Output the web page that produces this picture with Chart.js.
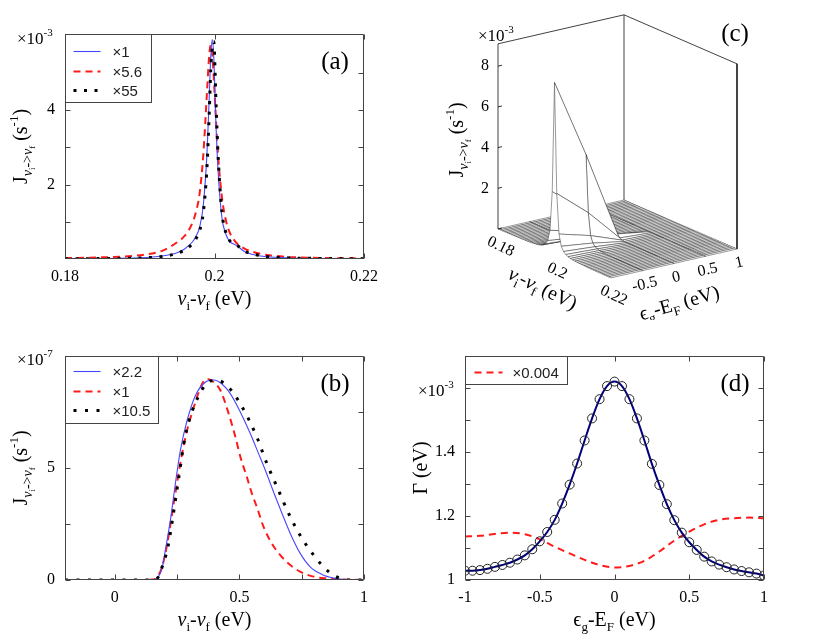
<!DOCTYPE html>
<html>
<head>
<meta charset="utf-8">
<script src="https://cdn.jsdelivr.net/npm/chart.js@4.4.1/dist/chart.umd.min.js"></script>
<style>
  html, body { margin: 0; padding: 0; background: #fff; }
  #page { position: relative; width: 830px; height: 643px; overflow: hidden; background: #fff; }
  canvas { position: absolute; }
</style>
</head>
<body>
<div id="page">
  <canvas id="cA" width="415" height="320" style="left:0;top:0"></canvas>
  <canvas id="cB" width="415" height="323" style="left:0;top:320px"></canvas>
  <canvas id="cC" width="415" height="320" style="left:415px;top:0"></canvas>
  <canvas id="cD" width="430" height="323" style="left:400px;top:320px"></canvas>
</div>
<script>
const SERIF = '"Liberation Serif", "Times New Roman", "DejaVu Serif", serif';
const SANS = '"Liberation Sans", Arial, sans-serif';
const BLUE = '#4646ff', RED = '#ff1a1a', NAVY = '#00007a';

// ---- (a) J vs nu_i - nu_f, units 1e-3 s^-1
const aNu = [0.18, 0.185, 0.19, 0.193, 0.195, 0.196, 0.197, 0.1975, 0.198, 0.1985, 0.199, 0.1993, 0.1995, 0.1997,
  0.1999, 0.2002, 0.2005, 0.201, 0.2015, 0.202, 0.203, 0.204, 0.205, 0.207, 0.21, 0.215, 0.22];
const aBlue = [0.007, 0.013, 0.029, 0.08, 0.17, 0.27, 0.45, 0.6, 0.85, 1.44, 2.86, 4.38, 5.43, 5.9,
  5.43, 3.6, 2.3, 1.1, 0.68, 0.48, 0.36, 0.2, 0.13, 0.06, 0.028, 0.013, 0.007];
const aRed = [0.025, 0.045, 0.1, 0.22, 0.45, 0.62, 0.95, 1.25, 1.75, 2.8, 4.5, 5.5, 5.75, 5.5,
  4.88, 3.73, 2.73, 1.65, 1.06, 0.73, 0.42, 0.28, 0.2, 0.11, 0.055, 0.025, 0.015];
const aBlack = [0.007, 0.012, 0.027, 0.07, 0.15, 0.24, 0.4, 0.54, 0.76, 1.25, 2.5, 3.95, 5.1, 5.7,
  5.85, 4.2, 2.7, 1.25, 0.72, 0.5, 0.37, 0.21, 0.14, 0.065, 0.03, 0.013, 0.007];
const aLegend = ['\u00d71', '\u00d75.6', '\u00d755'];
const aXTicks = [0.18, 0.2, 0.22], aXLabels = ['0.18', '0.2', '0.22'];
const aYTicks = [1, 2, 3, 4, 5], aYLabels = ['', '2', '', '4', ''];

// ---- (b) units 1e-7 s^-1
const bNuBlue = [-0.2, 0, 0.1, 0.15, 0.17, 0.19, 0.203, 0.223, 0.243, 0.263, 0.29, 0.323, 0.363, 0.397, 0.43,
  0.464, 0.504, 0.544, 0.577, 0.604, 0.637, 0.671, 0.704, 0.744, 0.784, 0.831, 0.878, 0.931, 1.0];
const bBlue = [0, 0, 0, 0.01, 0.08, 0.55, 1.34, 2.67, 4.3, 5.79, 7.12, 8.23, 8.83, 8.93, 8.75,
  8.31, 7.49, 6.53, 5.64, 4.9, 3.93, 2.97, 2.08, 1.19, 0.59, 0.25, 0.09, 0.015, 0];
const bNuRed = [-0.2, 0, 0.1, 0.15, 0.17, 0.19, 0.21, 0.236, 0.27, 0.29, 0.317, 0.35, 0.37, 0.395, 0.424,
  0.457, 0.484, 0.504, 0.53, 0.55, 0.57, 0.597, 0.63, 0.664, 0.704, 0.744, 0.798, 0.851, 0.904, 1.0];
const bRed = [0, 0, 0, 0.02, 0.12, 0.6, 1.6, 3.41, 5.64, 6.68, 7.72, 8.75, 8.98, 8.85, 8.46,
  7.42, 6.38, 5.49, 4.6, 3.86, 3.26, 2.37, 1.63, 1.11, 0.67, 0.37, 0.15, 0.07, 0.03, 0];
const bNuBlack = [-0.2, 0, 0.1, 0.15, 0.17, 0.19, 0.213, 0.233, 0.257, 0.283, 0.337, 0.39, 0.413, 0.45, 0.504,
  0.57, 0.61, 0.651, 0.704, 0.747, 0.798, 0.858, 0.904, 0.944, 1.0];
const bBlack = [0, 0, 0, 0.01, 0.07, 0.59, 1.48, 2.82, 4.6, 6.45, 8.23, 8.9, 8.9, 8.68, 7.86,
  6.38, 5.2, 4.15, 2.82, 1.93, 1.11, 0.37, 0.07, 0, 0];
const bLegend = ['\u00d72.2', '\u00d71', '\u00d710.5'];
const bXTicks = [0, 0.25, 0.5, 0.75, 1], bXLabels = ['0', '', '0.5', '', '1'];
const bYTicks = [0, 2.5, 5, 7.5], bYLabels = ['0', '', '5', ''];

// ---- (c) surface J(nu, eps), units 1e-3 s^-1
const cNuRange = [0.18, 0.22], cEpsRange = [-1, 1], cZMax = 9.1;
const cNu = [];
for (let i = 0; i <= 50; i++) cNu.push(+(0.18 + 0.0008 * i).toFixed(4));
const cEps = [-1, -0.5, 0, 0.5, 1];
const cJm1 = [0.007, 0.008, 0.009, 0.01, 0.011, 0.012, 0.013, 0.015, 0.016, 0.018, 0.021, 0.024, 0.028, 0.033,
  0.04, 0.047, 0.058, 0.075, 0.095, 0.13, 0.19, 0.29, 0.5, 1.05, 3.0, 8.4, 3.0, 1.05, 0.5, 0.29, 0.19, 0.13,
  0.095, 0.075, 0.058, 0.047, 0.04, 0.033, 0.028, 0.024, 0.021, 0.018, 0.016, 0.015, 0.013, 0.012, 0.011,
  0.01, 0.009, 0.008, 0.007];
const cJm05 = [0.004, 0.005, 0.005, 0.006, 0.006, 0.007, 0.008, 0.009, 0.01, 0.011, 0.012, 0.014, 0.016,
  0.019, 0.023, 0.028, 0.035, 0.045, 0.06, 0.08, 0.11, 0.17, 0.3, 0.62, 1.7, 4.5, 1.7, 0.62, 0.3, 0.17, 0.11,
  0.08, 0.06, 0.045, 0.035, 0.028, 0.023, 0.019, 0.016, 0.014, 0.012, 0.011, 0.01, 0.009, 0.008, 0.007,
  0.006, 0.006, 0.005, 0.005, 0.004];
const cJ0 = [0.001, 0.001, 0.001, 0.001, 0.001, 0.001, 0.001, 0.001, 0.001, 0.001, 0.001, 0.001, 0.001,
  0.001, 0.001, 0.001, 0.002, 0.003, 0.004, 0.005, 0.008, 0.012, 0.02, 0.04, 0.1, 0.25, 0.1, 0.04, 0.02,
  0.012, 0.008, 0.005, 0.004, 0.003, 0.002, 0.001, 0.001, 0.001, 0.001, 0.001, 0.001, 0.001, 0.001, 0.001,
  0.001, 0.001, 0.001, 0.001, 0.001, 0.001, 0.001];
const cJp05 = [0, 0, 0, 0, 0, 0, 0, 0, 0, 0, 0, 0, 0, 0, 0, 0, 0, 0, 0, 0, 0, 0, 0, 0, 0, 0,
  0, 0, 0, 0, 0, 0, 0, 0, 0, 0, 0, 0, 0, 0, 0, 0, 0, 0, 0, 0, 0, 0, 0, 0, 0];
const cJp1 = [0, 0, 0, 0, 0, 0, 0, 0, 0, 0, 0, 0, 0, 0, 0, 0, 0, 0, 0, 0, 0, 0, 0, 0, 0, 0,
  0, 0, 0, 0, 0, 0, 0, 0, 0, 0, 0, 0, 0, 0, 0, 0, 0, 0, 0, 0, 0, 0, 0, 0, 0];
const cZTicks = [2, 4, 6, 8], cZLabels = ['2', '4', '6', '8'];
const cNuTicks = [0.18, 0.2, 0.22], cNuLabels = ['0.18', '0.2', '0.22'];
const cEpsTicks = [-0.5, 0, 0.5, 1], cEpsLabels = ['-0.5', '0', '0.5', '1'];

// ---- (d) Gamma vs eps_g - E_F, units 1e-3 eV
const dEps = [-1, -0.95, -0.9, -0.85, -0.8, -0.75, -0.7, -0.65, -0.6, -0.55, -0.5, -0.45, -0.4, -0.35,
  -0.3, -0.25, -0.2, -0.15, -0.1, -0.05, 0, 0.05, 0.1, 0.15, 0.2, 0.25, 0.3, 0.35, 0.4, 0.45, 0.5,
  0.55, 0.6, 0.65, 0.7, 0.75, 0.8, 0.85, 0.9, 0.95, 1];
const dGamma = [1.029, 1.029, 1.031, 1.035, 1.041, 1.047, 1.054, 1.064, 1.077, 1.096, 1.121, 1.15, 1.188,
  1.239, 1.298, 1.364, 1.436, 1.505, 1.565, 1.606, 1.62, 1.606, 1.565, 1.505, 1.436, 1.363, 1.297, 1.237,
  1.187, 1.148, 1.118, 1.094, 1.073, 1.058, 1.048, 1.04, 1.033, 1.028, 1.024, 1.02, 1.014];
const dEpsRed = [-1, -0.9, -0.8, -0.7, -0.6, -0.5, -0.4, -0.3, -0.2, -0.1, 0, 0.1, 0.2, 0.3, 0.4, 0.5,
  0.6, 0.7, 0.8, 0.9, 1];
const dRed = [1.136, 1.138, 1.144, 1.148, 1.143, 1.127, 1.104, 1.083, 1.063, 1.047, 1.039, 1.044, 1.06,
  1.089, 1.123, 1.151, 1.174, 1.188, 1.193, 1.195, 1.193];
const dLegend = ['\u00d70.004'];
const dXTicks = [-1, -0.5, 0, 0.5, 1], dXLabels = ['-1', '-0.5', '0', '0.5', '1'];
const dYTicks = [1, 1.1, 1.2, 1.3, 1.4, 1.5, 1.6], dYLabels = ['1', '', '1.2', '', '1.4', '', ''];

// ---- text helpers
function richText(ctx, segs, x, y, rot, align) {
  ctx.save();
  ctx.translate(x, y);
  ctx.rotate(rot || 0);
  ctx.fillStyle = '#000';
  ctx.textAlign = 'left';
  ctx.textBaseline = 'alphabetic';
  const fontOf = s => (s[3] ? 'italic ' : '') + s[1] + 'px ' + (s[4] || SERIF);
  let w = 0;
  segs.forEach(s => { ctx.font = fontOf(s); w += ctx.measureText(s[0]).width; });
  let cx = align === 'center' ? -w / 2 : (align === 'right' ? -w : 0);
  segs.forEach(s => {
    ctx.font = fontOf(s);
    ctx.fillText(s[0], cx, s[2] || 0);
    cx += ctx.measureText(s[0]).width;
  });
  ctx.restore();
}
const tNu = [['\u03bd', 20, 0, true], ['i', 13, 5], ['-', 20, 0], ['\u03bd', 20, 0, true], ['f', 13, 5], [' (eV)', 20, 0]];
const tJ = [['J', 20, 0], ['\u03bd', 14, 5, true], ['i', 9, 8], ['->', 14, 5], ['\u03bd', 14, 5, true], ['f', 9, 8],
  [' (s', 20, 0], ['-1', 13, -9], [')', 20, 0]];
const tEps = [['\u03f5', 20, 0], ['g', 13, 5], ['-E', 20, 0], ['F', 13, 5], [' (eV)', 20, 0]];
const tGamma = [['\u0393 (eV)', 20, 0]];
const exp = p => [['\u00d710', 17, 0], [p, 11, -8]];

// ---- 2D panel decorations: inward ticks, frame, legend, labels
function decoPlugin(o) {
  return {
    id: 'deco',
    afterDraw(chart) {
      const ctx = chart.ctx, a = chart.chartArea, sx = chart.scales.x, sy = chart.scales.y;
      const L = Math.round(a.left) + 0.5, T = Math.round(a.top) + 0.5;
      const R = Math.round(a.right) - 0.5, B = Math.round(a.bottom) - 0.5;
      ctx.save();
      ctx.setLineDash([]);
      ctx.strokeStyle = '#444';
      ctx.lineWidth = 1;
      ctx.beginPath();
      sx.ticks.forEach(t => {
        const p = Math.round(sx.getPixelForValue(t.value)) + 0.5;
        ctx.moveTo(p, B); ctx.lineTo(p, B - 5);
        ctx.moveTo(p, T); ctx.lineTo(p, T + 5);
      });
      sy.ticks.forEach(t => {
        const p = Math.round(sy.getPixelForValue(t.value)) + 0.5;
        ctx.moveTo(L, p); ctx.lineTo(L + 5, p);
        ctx.moveTo(R, p); ctx.lineTo(R - 5, p);
      });
      ctx.rect(L, T, R - L, B - T);
      ctx.stroke();

      const lg = o.legend;
      if (lg) {
        ctx.fillStyle = '#fff';
        ctx.fillRect(L, T, lg.w, lg.h);
        ctx.strokeStyle = '#444';
        ctx.strokeRect(L, T, lg.w, lg.h);
        lg.labels.forEach((lab, i) => {
          const ds = chart.data.datasets[i];
          const yy = Math.round(T + lg.rows[i]) + 0.5;
          ctx.save();
          ctx.strokeStyle = ds.borderColor;
          ctx.lineWidth = ds.borderWidth;
          ctx.lineCap = 'butt';
          ctx.setLineDash(ds.borderDash || []);
          ctx.beginPath();
          ctx.moveTo(L + lg.s0, yy);
          ctx.lineTo(L + lg.s1, yy);
          ctx.stroke();
          ctx.restore();
          ctx.fillStyle = '#222';
          ctx.font = '15px ' + SANS;
          ctx.textBaseline = 'middle';
          ctx.textAlign = 'left';
          ctx.fillText(lab, L + lg.tx, yy + 1);
        });
      }
      o.texts.forEach(t => {
        const [x, y] = t.at(a);
        richText(ctx, t.segs, x, y, t.rot || 0, t.align || 'left');
      });
      ctx.restore();
    }
  };
}

function axisOpts(min, max, ticks, labels, which, size) {
  return {
    type: 'linear', min: min, max: max,
    afterBuildTicks: s => { s.ticks = ticks.map(v => ({ value: v })); },
    afterFit: s => { if (which === 'x') s.height = size; else s.width = size; },
    ticks: {
      autoSkip: false, maxRotation: 0, minRotation: 0,
      padding: which === 'x' ? 8 : 10,
      color: '#000', font: { family: SERIF, size: 16 },
      callback: (v, i) => labels[i]
    },
    grid: { display: false, drawTicks: false, tickLength: 0 },
    border: { display: false }
  };
}

function series(xs, ys, style) {
  return Object.assign({
    data: xs.map((x, i) => ({ x: x, y: ys[i] })),
    pointRadius: 0, fill: false, tension: 0, cubicInterpolationMode: 'monotone', borderCapStyle: 'butt'
  }, style);
}

function panel(id, datasets, pad, xAxis, yAxis, deco) {
  return new Chart(document.getElementById(id), {
    type: 'line',
    data: { datasets: datasets },
    options: {
      responsive: false, animation: false, events: [],
      layout: { padding: { left: 0, bottom: 0, top: pad.top, right: pad.right } },
      plugins: { legend: { display: false }, tooltip: { enabled: false } },
      scales: { x: xAxis, y: yAxis }
    },
    plugins: [decoPlugin(deco)]
  });
}

const xTitle = segs => ({ segs: segs, align: 'center', at: a => [(a.left + a.right) / 2, a.bottom + 46] });
const yTitle = segs => ({ segs: segs, align: 'center', rot: -Math.PI / 2, at: a => [a.left - 38, (a.top + a.bottom) / 2] });
const tag = s => ({ segs: [[s, 25, 0]], align: 'center', at: a => [a.right - 29, a.top + 35] });

// (a)
panel('cA', [
  series(aNu, aBlue, { borderColor: BLUE, borderWidth: 1.1, order: 1 }),
  series(aNu, aRed, { borderColor: RED, borderWidth: 2, borderDash: [7, 5], order: 2 }),
  series(aNu, aBlack, { borderColor: '#000', borderWidth: 3, borderDash: [3, 7.5], order: 0 })
], { top: 34, right: 51 },
  axisOpts(0.18, 0.22, aXTicks, aXLabels, 'x', 61),
  axisOpts(0, 6.05, aYTicks, aYLabels, 'y', 65),
  {
    legend: { w: 86, h: 68, rows: [16, 36, 55], s0: 8, s1: 35, tx: 47, labels: aLegend },
    texts: [xTitle(tNu), yTitle(tJ), tag('(a)'),
      { segs: exp('-3'), at: a => [a.left - 48, a.top + 10] }]
  });

// (b)
panel('cB', [
  series(bNuBlue, bBlue, { borderColor: BLUE, borderWidth: 1.1, order: 1 }),
  series(bNuRed, bRed, { borderColor: RED, borderWidth: 2, borderDash: [7, 5], order: 2 }),
  series(bNuBlack, bBlack, { borderColor: '#000', borderWidth: 3, borderDash: [3, 8.5], order: 0 })
], { top: 36, right: 51 },
  axisOpts(-0.2, 1, bXTicks, bXLabels, 'x', 63),
  axisOpts(0, 10, bYTicks, bYLabels, 'y', 65),
  {
    legend: { w: 93, h: 67, rows: [14, 34, 53], s0: 8, s1: 35, tx: 47, labels: bLegend },
    texts: [xTitle(tNu), yTitle(tJ), tag('(b)'),
      { segs: exp('-7'), at: a => [a.left - 48, a.top + 9] }]
  });

// (d)
panel('cD', [
  series(dEpsRed, dRed, { borderColor: RED, borderWidth: 2, borderDash: [7, 5], order: 2 }),
  series(dEps, dGamma, { borderColor: NAVY, borderWidth: 2, order: 1 }),
  {
    data: dEps.map((x, i) => ({ x: x, y: dGamma[i] })), showLine: false,
    pointRadius: 4.5, pointBorderWidth: 1, pointBorderColor: '#222',
    pointBackgroundColor: 'rgba(0,0,0,0)', borderColor: '#222', order: 0
  }
], { top: 36, right: 66 },
  axisOpts(-1, 1, dXTicks, dXLabels, 'x', 63),
  axisOpts(1, 1.7, dYTicks, dYLabels, 'y', 65),
  {
    legend: { w: 102, h: 28, rows: [15], s0: 9, s1: 37, tx: 47, labels: dLegend },
    texts: [xTitle(tEps), yTitle(tGamma), tag('(d)'),
      { segs: exp('-3'), at: a => [a.left - 47, a.top + 40] }]
  });

// ---- (c) mesh surface, drawn back-to-front with white-filled quads
function proj(nu, eps, j) {
  const p = (nu - cNuRange[0]) / (cNuRange[1] - cNuRange[0]);
  const q = (eps - cEpsRange[0]) / (cEpsRange[1] - cEpsRange[0]);
  return { x: 83 + 113 * p + 126 * q, y: 229 + 49 * p - 29 * q - 20.35 * j };
}
const cRows = [cJm1, cJm05, cJ0, cJp05, cJp1];
const cSets = [];
for (let j = 0; j < cEps.length - 1; j++) {
  for (let i = cNu.length - 2; i >= 0; i--) {
    const pts = [
      proj(cNu[i], cEps[j], cRows[j][i]),
      proj(cNu[i + 1], cEps[j], cRows[j][i + 1]),
      proj(cNu[i + 1], cEps[j + 1], cRows[j + 1][i + 1]),
      proj(cNu[i], cEps[j + 1], cRows[j + 1][i])
    ];
    pts.push(pts[0]);
    cSets.push({
      data: pts, borderColor: '#1a1a1a', borderWidth: 0.45, backgroundColor: '#fff',
      fill: 'shape', pointRadius: 0, tension: 0
    });
  }
}
const boxEdge = pts => ({ data: pts, borderColor: '#111', borderWidth: 0.8, fill: false, pointRadius: 0, tension: 0 });
const n0 = cNuRange[0], n1 = cNuRange[1], e0 = cEpsRange[0], e1 = cEpsRange[1];
cSets.push(boxEdge([proj(n0, e0, 0), proj(n0, e0, cZMax), proj(n0, e1, cZMax), proj(n1, e1, cZMax), proj(n1, e1, 0)]));
cSets.push(boxEdge([proj(n0, e1, 0), proj(n0, e1, cZMax)]));

const cDeco = {
  id: 'cdeco',
  afterDraw(chart) {
    const ctx = chart.ctx, sx = chart.scales.x, sy = chart.scales.y;
    const px = (nu, eps, j) => { const p = proj(nu, eps, j); return [sx.getPixelForValue(p.x), sy.getPixelForValue(p.y)]; };
    ctx.save();
    ctx.strokeStyle = '#000';
    ctx.lineWidth = 0.8;
    ctx.beginPath();
    [0].concat(cZTicks).forEach(z => { const [x, y] = px(n0, e0, z); ctx.moveTo(x, y); ctx.lineTo(x + 4, y - 1); });
    ctx.stroke();
    ctx.fillStyle = '#000';
    ctx.font = '16px ' + SERIF;
    ctx.textAlign = 'right';
    ctx.textBaseline = 'middle';
    cZTicks.forEach((z, i) => { const [x, y] = px(n0, e0, z); ctx.fillText(cZLabels[i], x - 9, y); });
    cNuTicks.forEach((v, i) => { const [x, y] = px(v, e0, 0); richText(ctx, [[cNuLabels[i], 16, 5]], x + 3, y + 17, 0.45, 'center'); });
    cEpsTicks.forEach((v, i) => { const [x, y] = px(n1, v, 0); richText(ctx, [[cEpsLabels[i], 16, 5]], x + 2, y + 13, -0.22, 'center'); });
    richText(ctx, tNu, 125, 294, 0.45, 'center');
    richText(ctx, tEps, 266, 309, -0.28, 'center');
    richText(ctx, tJ, 48, 140, -Math.PI / 2, 'center');
    richText(ctx, exp('-3'), 63, 41, 0, 'left');
    richText(ctx, [['(c)', 25, 0]], 320, 41, 0, 'center');
    ctx.restore();
  }
};

new Chart(document.getElementById('cC'), {
  type: 'line',
  data: { datasets: cSets },
  options: {
    responsive: false, animation: false, events: [],
    layout: { padding: 0 },
    plugins: { legend: { display: false }, tooltip: { enabled: false }, filler: { drawTime: 'beforeDatasetDraw' } },
    scales: {
      x: { type: 'linear', display: false, min: 0, max: 415 },
      y: { type: 'linear', display: false, min: 0, max: 320, reverse: true }
    }
  },
  plugins: [cDeco]
});
</script>
</body>
</html>
